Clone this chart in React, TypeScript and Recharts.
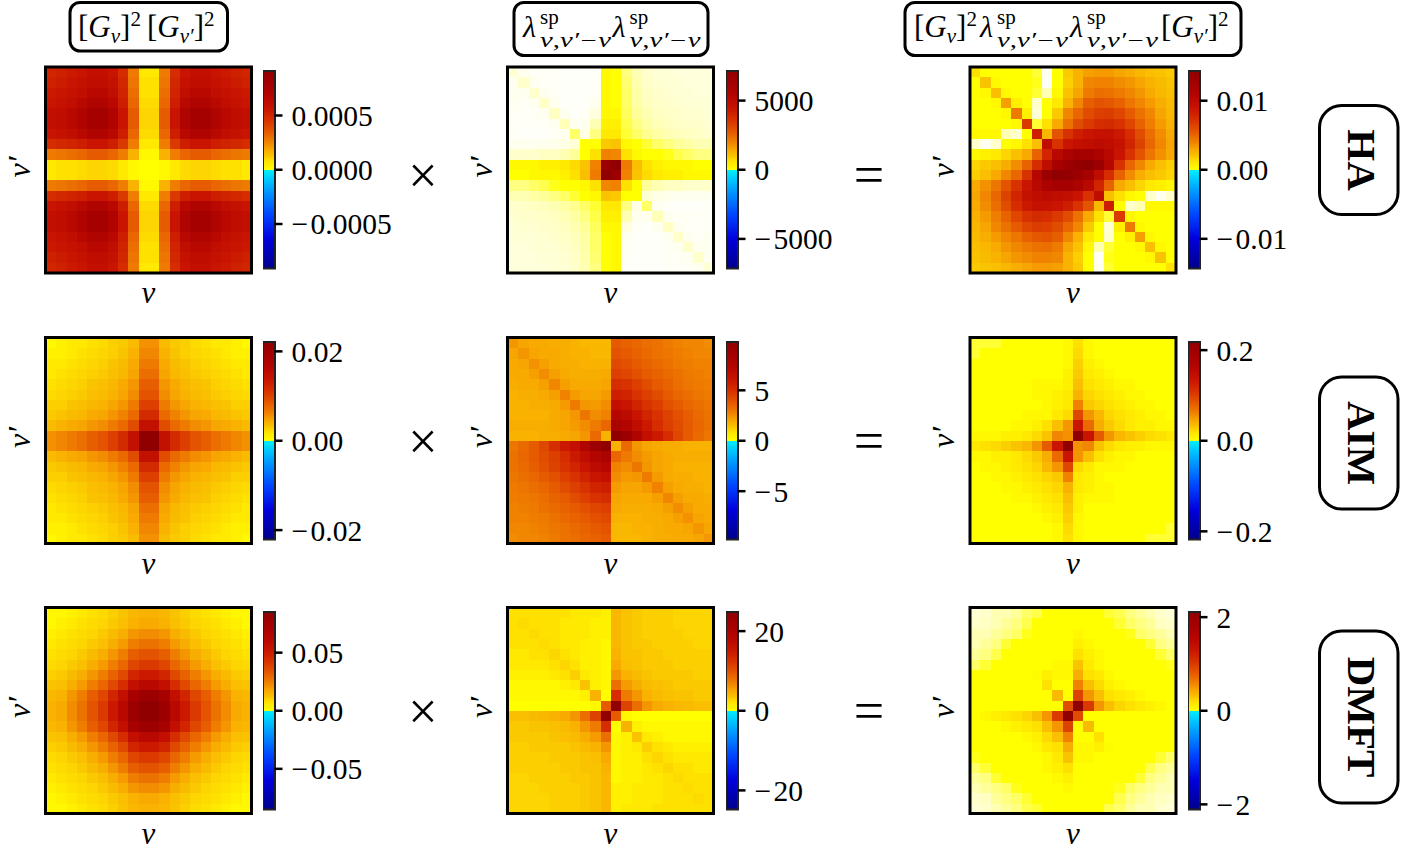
import React from 'react';
import { ScatterChart, Scatter, XAxis, YAxis, BarChart, Bar } from 'recharts';

// Heat-map values as percent of each panel's colour limit.
// G panels: upper-left quadrant (the picture is mirror symmetric).
const haG = [
[55,57,60,62,66,66,62,52,30,8],
[57,59,62,64,68,68,64,54,31,9],
[60,62,64,67,72,72,67,56,33,9],
[62,64,67,72,78,78,72,58,35,10],
[66,68,72,78,86,86,78,62,38,11],
[66,68,72,78,86,86,78,62,38,11],
[62,64,67,72,78,78,72,58,35,10],
[52,54,56,58,62,62,58,48,29,8],
[30,31,33,35,38,38,35,29,18,6],
[8,9,9,10,11,11,10,8,6,5],
];
const aimG = [
[6,7,8,8,9,10,12,13,16,25],
[7,7,8,9,10,11,12,14,18,27],
[8,8,9,10,11,12,14,16,20,30],
[8,9,10,11,12,13,15,17,21,33],
[9,10,11,12,14,15,17,20,24,37],
[10,11,12,13,15,16,18,21,26,40],
[12,12,14,15,17,18,21,24,30,46],
[13,14,16,17,20,21,24,28,34,53],
[16,18,20,21,24,26,30,34,42,65],
[25,27,30,33,37,40,46,53,65,100],
];
const dmftG = [
[6,6,7,8,9,10,12,14,17,18],
[6,7,8,9,10,11,13,15,18,20],
[7,8,9,10,11,13,16,19,24,26],
[8,9,10,11,13,15,19,23,29,32],
[9,10,11,13,16,19,24,29,37,40],
[10,11,13,15,19,23,29,35,44,48],
[12,13,16,19,24,29,36,43,55,60],
[14,15,19,23,29,35,43,52,66,72],
[17,18,24,29,37,44,55,66,85,92],
[18,20,26,32,40,48,60,72,92,100],
];
// Other panels: upper ten rows (the picture is point symmetric about its centre).
const haLam = [
[.8,.3,.2,.2,.2,.1,.1,.1,.1,6,5,2.5,1.5,1,.8,.8,.7,.7,.7,.7],
[.3,1,.3,.2,.2,.1,.1,.1,.2,6,5,2.8,1.6,1.1,.9,.8,.8,.7,.7,.7],
[.3,.3,1,.3,.2,.1,.1,.1,.2,6,5,3,1.7,1.2,1,.9,.8,.8,.7,.7],
[.3,.2,.3,1.1,.3,.1,.1,.1,.3,6,5,3,1.8,1.3,1.1,1,.9,.8,.8,.8],
[.2,.2,.2,.3,1.2,.3,.1,.2,.6,6,6,3.2,2,1.5,1.2,1.1,1,.9,.9,.8],
[.2,.2,.2,.2,.3,1.4,.3,.3,1.5,7,7,3.6,2.5,1.8,1.4,1.2,1.1,1,1,.9],
[.2,.1,.1,.1,.2,.3,3,.5,2.5,8,8,4,3,2.2,1.8,1.5,1.3,1.2,1.1,1],
[.3,.3,.3,.3,.4,.5,.8,5,5,13,14,6,5,4,3,2.5,2,1.8,1.5,1.5],
[1,1,1,1.2,1.2,1.5,2,5,9,28,27,9,6,5,5,4.5,3.5,3,2.5,2.5],
[6,6,6,7,7,8,10,14,28,92,100,30,15,9,7,6,6,6,5,5],
];
const haProd = [
[9,5,5,5,5,5,4,.3,5,13,18,22,23,23,21,19,17,15,14,13],
[5,14,6,5,5,5,4.5,.2,5,12,18,27,28,28,26,24,21,18,16,14],
[5,6,15,6,5,5,4,1.5,6,14,21,30,33,32,30,27,24,20,17,15],
[5,5,6,22,7,5,1,5,8,18,27,37,40,39,36,31,27,23,19,16],
[5,5,5,6,30,7,.8,5,13,27,35,42,46,47,44,38,32,27,21,17],
[5,5,5,5,6,48,4,9,20,32,42,48,52,53,50,44,36,29,23,18],
[6,6,6,1.5,1,5,58,17,40,50,58,62,64,64,60,52,42,33,26,20],
[1,.3,1,5,6,9,15,68,50,62,66,68,70,68,64,55,45,35,27,21],
[6,7,8,11,15,20,36,55,72,82,86,86,80,72,62,50,40,31,25,20],
[11,13,15,19,26,36,52,68,85,93,98,100,92,74,50,35,27,20,15,12],
];
const aimLam = [
[24,21,20,20,19,19,18,17,17,17,38,36,35,33,32,30,28,27,27,26],
[21,24,21,20,20,19,18,18,17,17,40,38,36,34,32,31,29,28,27,27],
[20,21,25,22,20,19,19,18,18,18,43,41,38,36,34,32,30,29,28,28],
[20,20,22,26,22,20,19,19,19,20,46,44,41,38,36,34,32,30,29,28],
[19,20,20,22,27,22,20,20,20,21,52,50,46,42,38,36,33,31,30,29],
[18,19,19,20,22,28,23,21,21,23,58,56,50,46,42,38,35,33,31,30],
[18,18,19,19,20,23,30,24,23,26,66,62,56,50,46,41,38,35,33,31],
[18,18,18,18,20,21,24,31,26,28,74,70,62,55,50,45,41,37,34,32],
[19,19,19,19,20,21,23,26,30,35,82,76,68,60,52,46,42,38,35,32],
[18,18,18,19,19,20,21,24,34,18,100,92,78,66,60,52,44,38,34,31],
];
const aimProd = [
[4,4,4,5,5,5,5,5,5,6,9,6,5,5,5,5,5,5,5,5],
[4,5,5,5,5,5,5,5,5,6,10,6,5,5,5,5,5,5,5,5],
[5,5,5,5,5,5,5,5,5,6,12,7,6,5,5,5,5,5,5,5],
[5,5,5,5,5,5,5,5,5,7,13,8,7,6,5,5,5,5,5,5],
[5,5,5,5,5,5,6,6,6,7,15,9,8,7,6,6,5,5,5,5],
[5,5,5,5,5,5,6,6,7,8,18,11,9,8,7,6,6,5,5,5],
[5,5,5,5,5,5,5,6,7,8,28,13,11,9,8,7,6,6,5,5],
[5,5,5,5,5,6,6,6,8,10,44,24,17,11,9,8,7,6,6,5],
[5,5,5,5,6,6,7,9,15,24,62,34,19,13,10,8,7,7,6,6],
[6,6,6,7,7,8,10,14,27,25,100,62,38,24,17,14,12,10,9,8],
];
const dmftLam = [
[9,9,9,9,9,9,8,8,8,7,17,14,13,12,12,12,11,11,11,11],
[9,10,9,9,9,8,8,8,7,7,17,14,13,12,12,12,11,11,11,11],
[9,9,10,9,9,8,8,8,7,7,17,14,13,12,12,12,12,11,11,11],
[9,9,9,10,9,8,8,7,7,6,17,14,13,13,12,12,12,12,11,11],
[8,8,9,9,11,9,8,7,7,6,18,14,14,13,13,12,12,12,12,12],
[8,8,8,8,9,11,9,7,7,6,20,15,14,13,13,13,12,12,12,12],
[7,7,7,7,8,9,12,8,7,6,24,18,16,14,13,13,13,13,12,12],
[6,6,6,6,6,7,8,14,7,6,33,23,19,16,15,14,13,13,13,13],
[6,6,6,6,6,6,6,7,18,5,52,30,24,18,16,15,14,14,13,13],
[5,5,5,5,5,5,5,5,6,38,100,45,33,24,20,18,17,16,15,15],
];
const dmftProd = [
[.8,1,1.5,1.5,2,3,3.5,5,5,5,5,5,5,4,3.5,2.5,2,1.5,1,.8],
[1,1.2,1.5,2,2.5,3.5,5,5,5,5,5,5,5,5,4,3,2.5,2,1.2,1],
[1.5,1.5,2,2.5,3,4.5,5,5,5,5,6,5,5,5,5,4.5,3,2.5,2,1.5],
[1.5,2,2.5,4,5,5,5,5,5,5,7,6,5,5,5,5,5,4,2.5,2],
[2,2.5,3.5,5,5,5,5,5,5,5,9,7,6,5,5,5,5,5,4,3],
[3,4,5,5,5,5,5,5,6,6,14,8,6,5,5,5,5,5,5,4.5],
[5,5,5,5,5,5,5.5,7,6,6,19,9,8,6,5,5,5,5,5,5],
[5,5,5,5,5,5,5,9,5,5,28,15,10,7,6,5,5,5,5,5],
[5,5,5,5,5,5,5,5,16,5,45,24,15,9,8,7,6,5,5,5],
[5,5,5,5,5,5,5,5,5,42,100,48,24,15,11,9,8,7,6,5],
];

const limits = [[0.00091,7140,0.0143],[0.0221,9.79,0.218],[0.085,24.8,2.11]];
const tickValues = [
  [[0.0005,0,-0.0005],[5000,0,-5000],[0.01,0,-0.01]],
  [[0.02,0,-0.02],[5,0,-5],[0.2,0,-0.2]],
  [[0.05,0,-0.05],[20,0,-20],[2,0,-2]],
];
const tickLabels = [
  [['0.0005','0.0000','−\u200A0.0005'],['5000','0','−\u200A5000'],['0.01','0.00','−\u200A0.01']],
  [['0.02','0.00','−\u200A0.02'],['5','0','−\u200A5'],['0.2','0.0','−\u200A0.2']],
  [['0.05','0.00','−\u200A0.05'],['20','0','−\u200A20'],['2','0','−\u200A2']],
];
const rowNames = ['HA','AIM','DMFT'];

const mirrored = (q: number[][]) => {
  const top = q.map(r => [...r, ...[...r].reverse()]);
  return [...top, ...[...top].reverse()];
};
const rotated = (t: number[][]) => [...t, ...[...t].reverse().map(r => [...r].reverse())];
const matrices = [
  [mirrored(haG), rotated(haLam), rotated(haProd)],
  [mirrored(aimG), rotated(aimLam), rotated(aimProd)],
  [mirrored(dmftG), rotated(dmftLam), rotated(dmftProd)],
];

// Colour scale: [percent of limit, r, g, b]
const posStops = [[0,255,255,255],[5,255,255,0],[9,255,225,0],[14,250,195,0],[20,248,170,0],[28,240,130,0],[38,230,90,0],[50,215,50,0],[62,200,20,0],[75,180,5,0],[90,160,0,0],[100,145,0,0]];
const negStops = [[0,0,240,255],[20,0,160,255],[45,0,70,255],[70,0,0,220],[100,0,0,140]];
const colorOf = (pct: number) => {
  const s = posStops;
  for (let i = 1; i < s.length; i++) {
    if (pct <= s[i][0]) {
      const t = (pct - s[i-1][0]) / (s[i][0] - s[i-1][0]);
      const c = [1,2,3].map(k => Math.round(s[i-1][k] + t * (s[i][k] - s[i-1][k])));
      return `rgb(${c[0]},${c[1]},${c[2]})`;
    }
  }
  return 'rgb(145,0,0)';
};

const FONT = '"Liberation Serif", serif';
const colX = [45.5, 507.5, 970];
const rowY = [67, 337.5, 607.5];
const cbX = [263, 725.5, 1188];
const cbY = [70.5, 341.5, 612];
const SIZE = 206;
const PAD = 3;
const CELL = SIZE / 20;

const Heat = ({ r, c }: { r: number; c: number }) => {
  const vmax = limits[r][c];
  const points = matrices[r][c].flatMap((row, i) =>
    row.map((pct, j) => ({ x: j + 0.5, y: i + 0.5, value: (pct / 100) * vmax })));
  const shape = (p: any) => (
    <rect x={p.cx - CELL / 2} y={p.cy - CELL / 2} width={CELL} height={CELL}
      fill={colorOf((p.payload.value / vmax) * 100)} shapeRendering="crispEdges" />
  );
  return (
    <div style={{ position: 'absolute', left: colX[c] - PAD, top: rowY[r] - PAD }}>
      <ScatterChart width={SIZE + 2 * PAD} height={SIZE + 2 * PAD} margin={{ top: PAD, right: PAD, bottom: PAD, left: PAD }}>
        <XAxis type="number" dataKey="x" domain={[0, 20]} hide />
        <YAxis type="number" dataKey="y" domain={[0, 20]} reversed hide />
        <Scatter data={points} shape={shape} isAnimationActive={false} />
      </ScatterChart>
    </div>
  );
};

const Colorbar = ({ r, c }: { r: number; c: number }) => {
  const vmax = limits[r][c];
  const id = `cb-${r}-${c}`;
  const labels = tickLabels[r][c];
  const vals = tickValues[r][c];
  const CB_W = 11.5, CB_H = 197.5, AX = 145, M = 20;
  return (
    <div style={{ position: 'absolute', left: cbX[c], top: cbY[r] - M }}>
      <BarChart width={CB_W + AX} height={CB_H + 2 * M} barCategoryGap={0}
        data={[{ name: 'cb', range: [-vmax, vmax] }]} margin={{ top: M, right: 0, bottom: M, left: 0 }}>
        <defs>
          <linearGradient id={id} x1="0" y1="0" x2="0" y2="1">
            {[...posStops].reverse().filter(s => s[0] >= 5).map(s => (
              <stop key={'p' + s[0]} offset={`${50 - s[0] / 2 + (s[0] === 5 ? 2.5 : 0)}%`} stopColor={`rgb(${s[1]},${s[2]},${s[3]})`} />
            ))}
            {negStops.map(s => (
              <stop key={'n' + s[0]} offset={`${50 + s[0] / 2}%`} stopColor={`rgb(${s[1]},${s[2]},${s[3]})`} />
            ))}
          </linearGradient>
        </defs>
        <XAxis dataKey="name" hide />
        <YAxis orientation="right" width={AX} type="number" domain={[-vmax, vmax]} ticks={vals} interval={0}
          axisLine={false} tickSize={8} tickMargin={9} tickLine={{ stroke: '#000', strokeWidth: 2.5 }}
          tick={{ fontSize: 29.5, fontFamily: FONT, fill: '#000' }}
          tickFormatter={(v: number) => labels[vals.indexOf(v)]} />
        <Bar dataKey="range" fill={`url(#${id})`} stroke="#222" strokeWidth={2} isAnimationActive={false} />
      </BarChart>
    </div>
  );
};

const Lam = ({ x, y }: { x: number; y: number }) => (
  <g fontFamily={FONT}>
    <text x={x} y={y} fontSize={30} fontStyle="italic">λ</text>
    <text x={x + 17} y={y - 13} fontSize={21}>sp</text>
    <text x={x + 17} y={y + 10} fontSize={20} fontStyle="italic" textLength={71} lengthAdjust="spacingAndGlyphs">ν,ν′−ν</text>
  </g>
);

const GTerm = ({ x, y, prime }: { x: number; y: number; prime?: boolean }) => (
  <text x={x} y={y} fontFamily={FONT} fontSize={31}>
    <tspan>[</tspan><tspan fontStyle="italic">G</tspan>
    <tspan fontSize={21} fontStyle="italic" dy={6}>{prime ? 'ν′' : 'ν'}</tspan>
    <tspan dy={-6}>]</tspan><tspan fontSize={21} dy={-11}>2</tspan>
  </text>
);

const opY = [193, 459, 729];

const Overlay = () => (
  <svg width={1421} height={852} style={{ position: 'absolute', left: 0, top: 0, pointerEvents: 'none' }}>
    <g fill="#fff" stroke="#000" strokeWidth={3}>
      <rect x={70} y={2.5} width={157.5} height={48.5} rx={10} />
      <rect x={514} y={2.5} width={194} height={53} rx={10} />
      <rect x={905} y={2.5} width={336} height={53} rx={10} />
      <rect x={1319.5} y={105.5} width={78.5} height={109} rx={22} />
      <rect x={1319.5} y={377} width={78.5} height={132} rx={22} />
      <rect x={1319.5} y={631} width={78.5} height={172} rx={22} />
    </g>
    {rowY.map(y => colX.map(x => (
      <rect key={`${x}-${y}`} x={x} y={y} width={SIZE} height={SIZE} fill="none" stroke="#000" strokeWidth={3} />
    )))}
    <GTerm x={78} y={37} />
    <GTerm x={147} y={37} prime />
    <Lam x={523} y={37} />
    <Lam x={612.5} y={37} />
    <GTerm x={914} y={37} />
    <Lam x={980} y={37} />
    <Lam x={1070} y={37} />
    <GTerm x={1161} y={37} prime />
    {rowNames.map((n, i) => {
      const cy = [160, 443, 717][i];
      return (
        <text key={n} transform={`translate(1362 ${cy}) rotate(90)`} textAnchor="middle" dominantBaseline="central"
          fontFamily={FONT} fontWeight="bold" fontSize={41}>{n}</text>
      );
    })}
    {rowY.map((y, i) => (
      <g key={i} fontFamily={FONT} fill="#000">
        <text x={423} y={opY[i]} fontSize={52} textAnchor="middle">×</text>
        <text x={869} y={opY[i]} fontSize={54} textAnchor="middle">=</text>
        {colX.map((x, j) => (
          <g key={j}>
            <text x={x + 103} y={y + 236} fontSize={31} fontStyle="italic" textAnchor="middle">ν</text>
            <text transform={`translate(${x - 16} ${y + 100}) rotate(-90)`} fontSize={32} fontStyle="italic" textAnchor="middle">ν′</text>
          </g>
        ))}
      </g>
    ))}
  </svg>
);

export default function App() {
  return (
    <div style={{ position: 'fixed', left: 0, top: 0, width: 1421, height: 852, background: '#fff', overflow: 'hidden' }}>
      {[0, 1, 2].map(r => [0, 1, 2].map(c => <Heat key={`h${r}${c}`} r={r} c={c} />))}
      {[0, 1, 2].map(r => [0, 1, 2].map(c => <Colorbar key={`c${r}${c}`} r={r} c={c} />))}
      <Overlay />
    </div>
  );
}
